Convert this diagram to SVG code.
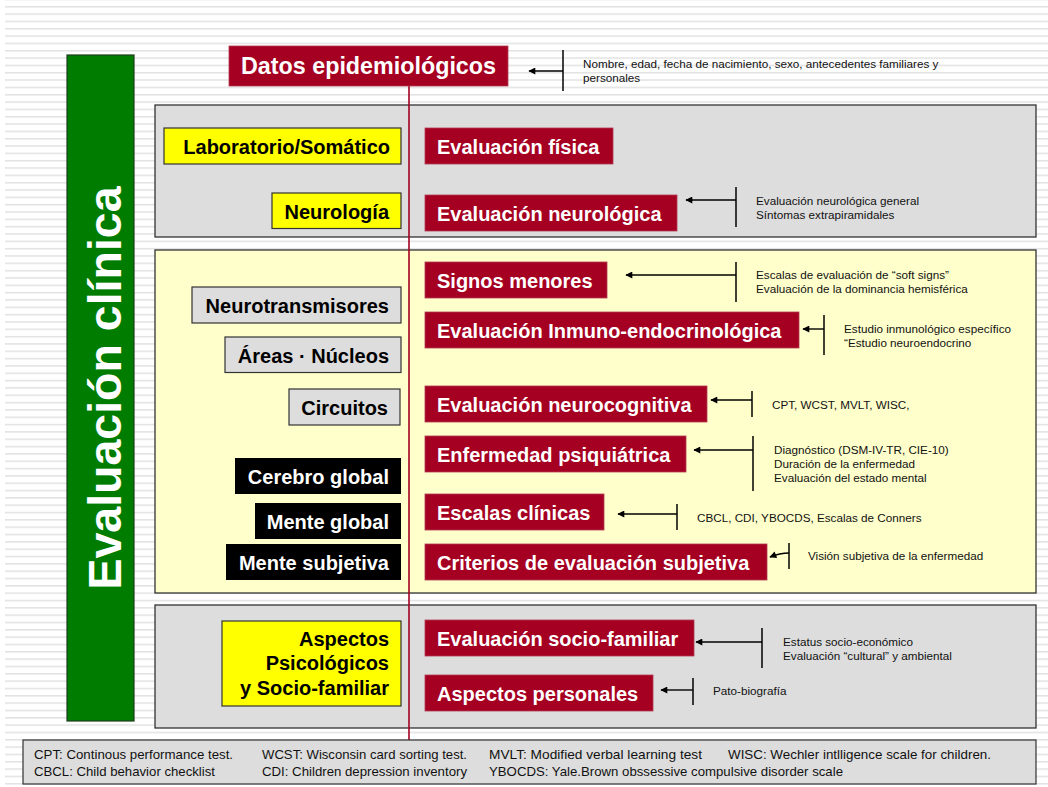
<svg xmlns="http://www.w3.org/2000/svg" width="1048" height="787" viewBox="0 0 1048 787">
<style>
.red{fill:#a50021;stroke:#b23a55;stroke-width:0.8}
.yel{fill:#ffff00;stroke:#333;stroke-width:1.2}
.gry{fill:#dddddd;stroke:#333;stroke-width:1.2}
.blk{fill:#000}
.panel{stroke:#333;stroke-width:1.3}
.tw{font-family:"Liberation Sans",Arial,sans-serif;font-weight:bold;font-size:20px;fill:#fff}
.big{font-size:23.3px}
.tb{font-family:"Liberation Sans",Arial,sans-serif;font-weight:bold;font-size:20px;fill:#000;text-anchor:end}
.tbw{font-family:"Liberation Sans",Arial,sans-serif;font-weight:bold;font-size:20px;fill:#fff;text-anchor:end}
.ann{font-family:"Liberation Sans",Arial,sans-serif;font-size:11.7px;fill:#111}
.leg{font-family:"Liberation Sans",Arial,sans-serif;font-size:13.5px;fill:#111}
.br{stroke:#000;stroke-width:1.5;fill:none}
.ar{stroke:#000;stroke-width:1.4;fill:none;marker-end:url(#ah)}
</style>
<defs>
<pattern id="stripes" patternUnits="userSpaceOnUse" x="0" y="6" width="1048" height="7.33">
<rect x="0" y="0" width="1048" height="1.5" fill="#e2e2e2"/>
</pattern>
<marker id="ah" viewBox="0 0 10 10" refX="9" refY="5" markerUnits="userSpaceOnUse" markerWidth="9" markerHeight="7" orient="auto">
<path d="M0,0 L10,5 L0,10 z" fill="#000"/>
</marker>
</defs>
<rect width="1048" height="787" fill="#fff"/>
<rect x="5" y="0" width="1043" height="787" fill="url(#stripes)"/>

<g id="evaluacion-clinica">
<rect x="67" y="55" width="67" height="666" fill="#007c00" stroke="#1d3d1d" stroke-width="1.2"/>
<text transform="translate(120.5,388) rotate(-90)" text-anchor="middle" font-family="Liberation Sans, Arial, sans-serif" font-weight="bold" font-size="46.5" fill="#fff">Evaluación clínica</text>
</g>

<g id="panels">
<rect id="panel-somatico" class="panel" x="155" y="105" width="881" height="132" fill="#dddddd"/>
<rect id="panel-neuro" class="panel" x="155" y="250" width="881" height="343" fill="#ffffcc"/>
<rect id="panel-social" class="panel" x="155" y="605" width="881" height="123" fill="#dddddd"/>
</g>

<g id="connectors">
<line x1="409" y1="86" x2="409" y2="740" stroke="#a50021" stroke-width="1.6"/>
<line class="br" x1="563" y1="50" x2="563" y2="91"/><line class="ar" x1="563" y1="71" x2="529" y2="71"/>
<line class="br" x1="736" y1="187" x2="736" y2="227"/><line class="ar" x1="736" y1="200" x2="686" y2="200"/>
<line class="br" x1="736" y1="262" x2="736" y2="302"/><line class="ar" x1="736" y1="275" x2="626" y2="275"/>
<line class="br" x1="824" y1="315" x2="824" y2="355"/><line class="ar" x1="824" y1="329" x2="803" y2="329"/>
<line class="br" x1="752" y1="391" x2="752" y2="417"/><line class="ar" x1="752" y1="400" x2="711" y2="400"/>
<line class="br" x1="753" y1="436" x2="753" y2="491"/><line class="ar" x1="753" y1="450" x2="694" y2="450"/>
<line class="br" x1="677" y1="504" x2="677" y2="530"/><line class="ar" x1="677" y1="514" x2="618" y2="514"/>
<line class="br" x1="789" y1="543" x2="789" y2="569"/><path class="ar" d="M789,553 Q780,553 770,557"/>
<line class="br" x1="762" y1="628" x2="762" y2="668"/><line class="ar" x1="762" y1="642" x2="696" y2="642"/>
<line class="br" x1="693" y1="678" x2="693" y2="705"/><line class="ar" x1="693" y1="690" x2="661" y2="690"/>
</g>

<g id="datos-epidemiologicos"><rect class="red" x="229" y="46" width="279" height="40"/><text class="tw big" x="241" y="74">Datos epidemiológicos</text></g>

<g id="laboratorio"><rect class="yel" x="164" y="128" width="237" height="36"/><text class="tb" x="390" y="154">Laboratorio/Somático</text></g>
<g id="neurologia"><rect class="yel" x="272" y="193" width="129" height="35.5"/><text class="tb" x="389" y="219">Neurología</text></g>
<g id="neurotransmisores"><rect class="gry" x="192" y="287" width="209" height="36"/><text class="tb" x="389" y="313">Neurotransmisores</text></g>
<g id="areas-nucleos"><rect class="gry" x="225" y="337" width="176" height="35.5"/><text class="tb" x="389" y="363">Áreas · Núcleos</text></g>
<g id="circuitos"><rect class="gry" x="289" y="389" width="111" height="36"/><text class="tb" x="388" y="415">Circuitos</text></g>
<g id="cerebro-global"><rect class="blk" x="235" y="458" width="166" height="36"/><text class="tbw" x="389" y="484">Cerebro global</text></g>
<g id="mente-global"><rect class="blk" x="255" y="503" width="146" height="36"/><text class="tbw" x="389" y="529">Mente global</text></g>
<g id="mente-subjetiva"><rect class="blk" x="226" y="544" width="175" height="36"/><text class="tbw" x="389" y="570">Mente subjetiva</text></g>
<g id="aspectos-psicologicos"><rect class="yel" x="222" y="621" width="179" height="85"/>
<text class="tb" x="389" y="645.5">Aspectos</text><text class="tb" x="389" y="670">Psicológicos</text><text class="tb" x="389" y="694.5">y Socio-familiar</text></g>

<g id="evaluacion-fisica"><rect class="red" x="425" y="128" width="188" height="36"/><text class="tw" x="437" y="154">Evaluación física</text></g>
<g id="evaluacion-neurologica"><rect class="red" x="425" y="195" width="252" height="36"/><text class="tw" x="437" y="221">Evaluación neurológica</text>
<text class="ann" x="756" y="205">Evaluación neurológica general</text><text class="ann" x="756" y="219">Síntomas extrapiramidales</text></g>
<g id="signos-menores"><rect class="red" x="425" y="262" width="182" height="36"/><text class="tw" x="437" y="288">Signos menores</text>
<text class="ann" x="756" y="278.5">Escalas de evaluación de “soft signs”</text><text class="ann" x="756" y="292.5">Evaluación de la dominancia hemisférica</text></g>
<g id="inmuno-endocrinologica"><rect class="red" x="425" y="312" width="374" height="36"/><text class="tw" x="437" y="338">Evaluación Inmuno-endocrinológica</text>
<text class="ann" x="844" y="332.5">Estudio inmunológico específico</text><text class="ann" x="844" y="346.5">“Estudio neuroendocrino</text></g>
<g id="evaluacion-neurocognitiva"><rect class="red" x="425" y="386" width="282" height="36"/><text class="tw" x="437" y="412">Evaluación neurocognitiva</text>
<text class="ann" x="772" y="409">CPT, WCST, MVLT,  WISC,</text></g>
<g id="enfermedad-psiquiatrica"><rect class="red" x="425" y="436" width="261" height="36"/><text class="tw" x="437" y="462">Enfermedad psiquiátrica</text>
<text class="ann" x="774" y="453.5">Diagnóstico (DSM-IV-TR, CIE-10)</text><text class="ann" x="774" y="467.5">Duración de la enfermedad</text><text class="ann" x="774" y="481.5">Evaluación del estado mental</text></g>
<g id="escalas-clinicas"><rect class="red" x="425" y="494" width="179" height="36"/><text class="tw" x="437" y="520">Escalas clínicas</text>
<text class="ann" x="697" y="521.5">CBCL, CDI, YBOCDS, Escalas de Conners</text></g>
<g id="criterios-subjetiva"><rect class="red" x="425" y="544" width="342" height="36"/><text class="tw" x="437" y="570">Criterios de evaluación subjetiva</text>
<text class="ann" x="808" y="560">Visión subjetiva de la enfermedad</text></g>
<g id="evaluacion-socio-familiar"><rect class="red" x="425" y="620" width="269" height="36"/><text class="tw" x="437" y="646">Evaluación socio-familiar</text>
<text class="ann" x="783" y="646">Estatus socio-económico</text><text class="ann" x="783" y="659.5">Evaluación “cultural” y ambiental</text></g>
<g id="aspectos-personales"><rect class="red" x="425" y="675" width="228" height="36"/><text class="tw" x="437" y="701">Aspectos personales</text>
<text class="ann" x="713" y="695">Pato-biografía</text></g>

<g id="datos-nota"><text class="ann" x="583" y="67.5">Nombre, edad, fecha de nacimiento, sexo, antecedentes familiares y</text><text class="ann" x="583" y="81.5">personales</text></g>

<g id="leyenda">
<rect x="23" y="740" width="1013" height="44" fill="#dddddd" stroke="#333" stroke-width="1.2"/>
<text class="leg" x="34" y="759" textLength="199" lengthAdjust="spacingAndGlyphs">CPT: Continous performance test.</text>
<text class="leg" x="262" y="759" textLength="205" lengthAdjust="spacingAndGlyphs">WCST: Wisconsin card sorting test.</text>
<text class="leg" x="489" y="759" textLength="213" lengthAdjust="spacingAndGlyphs">MVLT: Modified verbal learning test</text>
<text class="leg" x="728" y="759" textLength="263" lengthAdjust="spacingAndGlyphs">WISC: Wechler intlligence scale for children.</text>
<text class="leg" x="34" y="776" textLength="181" lengthAdjust="spacingAndGlyphs">CBCL: Child behavior checklist</text>
<text class="leg" x="262" y="776" textLength="205" lengthAdjust="spacingAndGlyphs">CDI: Children depression inventory</text>
<text class="leg" x="489" y="776" textLength="354" lengthAdjust="spacingAndGlyphs">YBOCDS: Yale.Brown obssessive compulsive disorder scale</text>
</g>
</svg>
